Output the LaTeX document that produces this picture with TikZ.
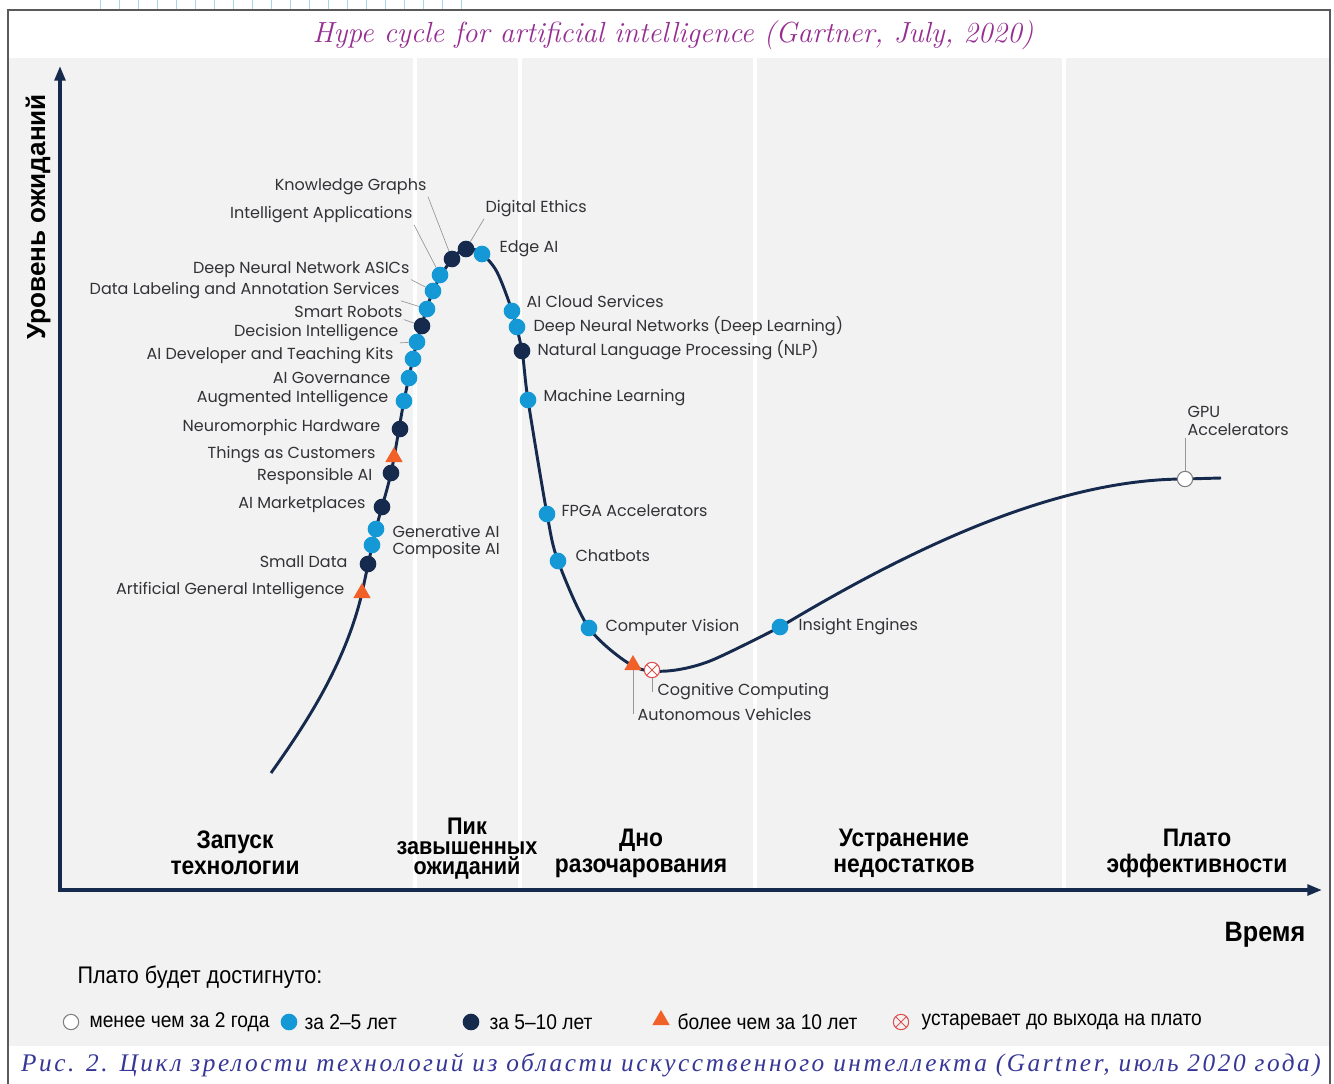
\documentclass[tikz,border=0pt]{standalone}
\usepackage{fontspec}
\usetikzlibrary{shapes.geometric,arrows.meta}
\newfontfamily\gartnerfont{Poppins}
\newfontfamily\narrowfont[FakeStretch=0.9]{Liberation Sans}
\newfontfamily\ylabfont{Liberation Sans}
\newfontfamily\capfont[LetterSpace=10]{Liberation Serif}
\definecolor{hypecyan}{RGB}{20,152,214}
\definecolor{hypenavy}{RGB}{22,42,78}
\definecolor{hypeorange}{RGB}{240,96,40}
\definecolor{hypered}{RGB}{222,80,80}
\definecolor{panelgray}{RGB}{242,242,242}
\definecolor{labelgray}{RGB}{50,50,55}
\definecolor{leadergray}{RGB}{150,150,150}
\definecolor{titlepurple}{RGB}{150,45,145}
\definecolor{capblue}{RGB}{55,55,150}
\definecolor{tickblue}{RGB}{170,215,240}
\definecolor{framegray}{RGB}{90,90,90}
\begin{document}
\begin{tikzpicture}[x=0.75pt,y=0.75pt,yscale=-1,xscale=1,
  lbl/.style={font=\gartnerfont\fontsize{12}{14}\selectfont, text=labelgray, inner sep=1pt},
  leader/.style={draw=leadergray, line width=0.5pt},
  dotA/.style={circle, fill=hypecyan, inner sep=0pt, minimum size=12.5pt},
  dotB/.style={circle, fill=hypenavy, inner sep=0pt, minimum size=12.5pt},
  dotC/.style={regular polygon, regular polygon sides=3, fill=hypeorange, inner sep=0pt, minimum size=15pt},
  dotD/.style={circle, draw=gray, fill=white, line width=0.8pt, inner sep=0pt, minimum size=11.5pt},
  dotX/.style={circle, draw=hypered, fill=white, line width=0.8pt, inner sep=0pt, minimum size=11.5pt,
    path picture={\draw[hypered, line width=0.7pt] (path picture bounding box.north west) -- (path picture bounding box.south east) (path picture bounding box.north east) -- (path picture bounding box.south west);}},
  phase/.style={font=\narrowfont\bfseries\fontsize{19}{19.5}\selectfont, align=center, text=black},
  legtext/.style={font=\narrowfont\fontsize{16}{19}\selectfont, text=black, anchor=west, inner sep=1pt},
  curve/.style={draw=hypenavy, line width=2.2pt, line join=round},
  axis/.style={draw=hypenavy, line width=2.6pt}]
\useasboundingbox (0,0) rectangle (1334,1084);

% frame, page ruler and panel
\foreach \i in {0,...,19} \draw[tickblue, line width=0.6pt] (100+19*\i,0) -- (100+19*\i,10);
\fill[panelgray] (9,58) rectangle (1329,1046);
\draw[framegray, line width=1pt] (8,1090) -- (8,10) -- (1330,10) -- (1330,1090);
\foreach \x in {415,520,755,1064} \draw[white, line width=2.6pt] (\x,58) -- (\x,888);

\node[font=\itshape\fontsize{21.8}{26}\selectfont, text=titlepurple] (title) at (673,35) {Hype cycle for artificial intelligence (Gartner, July, 2020)};

% axes
\draw[axis, -{Triangle[length=11pt,width=8pt]}] (60,892) -- (60,66);
\draw[axis, -{Triangle[length=11pt,width=8pt]}] (58,890) -- (1322,890);
\node[font=\ylabfont\bfseries\fontsize{19.6}{22}\selectfont, rotate=90] (ylab) at (38,217) {Уровень ожиданий};
\node[phase, font=\narrowfont\bfseries\fontsize{21}{24}\selectfont, anchor=east] (time) at (1310,935) {Время};

% hype curve
\draw[curve] (271,773) .. controls (305,725) and (345,665) .. (362,593)
  -- plot[smooth, tension=0.5] coordinates {(362,593) (376,529) (391,473) (404,401) (417,342) (433,291) (452,259) (467,248) (482,254) (497,272) (512,311) (522,351) (528,400) (547,514) (558,561) (589,628) (633,666) (667,671) (710,661) (780,627)}
  .. controls (900,555) and (1050,479) .. (1185,479) -- (1221,478);

% technologies
\node[dotB] (d-kg) at (452,259) {};
\node[dotA] (d-ia) at (440,275) {};
\node[dotB] (d-de) at (466,249) {};
\node[dotA] (d-edge) at (482,254) {};
\node[dotA] (d-asic) at (433,291) {};
\node[dotA] (d-dlabel) at (427,309) {};
\node[dotB] (d-robots) at (422,326) {};
\node[dotA] (d-decint) at (417,342) {};
\node[dotA] (d-devkit) at (413,359) {};
\node[dotA] (d-gov) at (409,378) {};
\node[dotA] (d-augint) at (404,401) {};
\node[dotB] (d-neuro) at (400,429) {};
\node[dotC] (d-things) at (394,457) {};
\node[dotB] (d-respai) at (391,473) {};
\node[dotB] (d-market) at (382,507) {};
\node[dotA] (d-genai) at (376,529) {};
\node[dotA] (d-compai) at (372,545) {};
\node[dotB] (d-small) at (368,564) {};
\node[dotC] (d-agi) at (362,593) {};
\node[dotA] (d-cloud) at (512,311) {};
\node[dotA] (d-dnn) at (517,327) {};
\node[dotB] (d-nlp) at (522,351) {};
\node[dotA] (d-ml) at (528,400) {};
\node[dotA] (d-fpga) at (547,514) {};
\node[dotA] (d-chat) at (558,561) {};
\node[dotA] (d-cv) at (589,628) {};
\node[dotC] (d-autov) at (633,665) {};
\node[dotX] (d-cogc) at (652,670) {};
\node[dotA] (d-insight) at (780,627) {};
\node[dotD] (d-gpu) at (1185,479) {};

\node[lbl, anchor=east] (l-kg) at (428,187) {Knowledge Graphs};
\node[lbl, anchor=east] (l-ia) at (414,215) {Intelligent Applications};
\node[lbl, anchor=east] (l-asic) at (411,270) {Deep Neural Network ASICs};
\node[lbl, anchor=east] (l-dlabel) at (401,291) {Data Labeling and Annotation Services};
\node[lbl, anchor=east] (l-robots) at (404,312) {Smart Robots};
\node[lbl, anchor=east] (l-decint) at (400,333) {Decision Intelligence};
\node[lbl, anchor=east] (l-devkit) at (395,356) {AI Developer and Teaching Kits};
\node[lbl, anchor=east] (l-gov) at (392,378) {AI Governance};
\node[lbl, anchor=east] (l-augint) at (390,399) {Augmented Intelligence};
\node[lbl, anchor=east] (l-neuro) at (382,427) {Neuromorphic Hardware};
\node[lbl, anchor=east] (l-things) at (377,455) {Things as Customers};
\node[lbl, anchor=east] (l-respai) at (374,476) {Responsible AI};
\node[lbl, anchor=east] (l-market) at (367,505) {AI Marketplaces};
\node[lbl, anchor=east] (l-small) at (349,562) {Small Data};
\node[lbl, anchor=east] (l-agi) at (346,591) {Artificial General Intelligence};
\node[lbl, anchor=west] (l-de) at (484,209) {Digital Ethics};
\node[lbl, anchor=west] (l-edge) at (498,249) {Edge AI};
\node[lbl, anchor=west] (l-cloud) at (525,301) {AI Cloud Services};
\node[lbl, anchor=west] (l-dnn) at (532,326) {Deep Neural Networks (Deep Learning)};
\node[lbl, anchor=west] (l-nlp) at (536,350) {Natural Language Processing (NLP)};
\node[lbl, anchor=west] (l-ml) at (542,398) {Machine Learning};
\node[lbl, anchor=west] (l-genai) at (391,531) {Generative AI};
\node[lbl, anchor=west] (l-compai) at (391,550) {Composite AI};
\node[lbl, anchor=west] (l-fpga) at (560,511) {FPGA Accelerators};
\node[lbl, anchor=west] (l-chat) at (574,556) {Chatbots};
\node[lbl, anchor=west] (l-cv) at (604,627) {Computer Vision};
\node[lbl, anchor=west] (l-cogc) at (656,692) {Cognitive Computing};
\node[lbl, anchor=west] (l-autov) at (636,714) {Autonomous Vehicles};
\node[lbl, anchor=west] (l-insight) at (797,627) {Insight Engines};
\node[lbl, anchor=north west, align=left, font=\gartnerfont\fontsize{12}{13.5}\selectfont] (l-gpu) at (1186,405) {GPU\\Accelerators};

% leader lines
\draw[leader] (l-kg.south east) -- (d-kg);
\draw[leader] (l-ia.south east) -- (d-ia);
\draw[leader] (l-de.south west) -- (d-de);
\draw[leader] (l-asic.south east) -- (d-asic);
\draw[leader] (l-dlabel.south east) -- (d-dlabel);
\draw[leader] (l-robots.south east) -- (d-robots);
\draw[leader] (l-decint.south east) -- (d-decint);
\draw[leader] (d-cogc.south) -- (d-cogc.south |- l-cogc.center);
\draw[leader] (d-autov.south) -- (d-autov.south |- l-autov.center);
\draw[leader] (d-gpu.north) -- (d-gpu.north |- l-gpu.south);

% phases
\node[phase] (ph-trigger) at (235,853) {Запуск\\технологии};
\node[phase, font=\narrowfont\bfseries\fontsize{18}{15}\selectfont] (ph-peak) at (467,849) {Пик\\завышенных\\ожиданий};
\node[phase] (ph-trough) at (641,853) {Дно\\разочарования};
\node[phase] (ph-slope) at (904,853) {Устранение\\недостатков};
\node[phase] (ph-plateau) at (1197,853) {Плато\\эффективности};

% legend
\node[legtext, font=\narrowfont\fontsize{18}{21}\selectfont] (legtitle) at (76,977) {Плато будет достигнуто:};
\node[dotD] (k-less2) at (71,1022) {};
\node[legtext] (t-less2) at (88,1022) {менее чем за 2 года};
\node[dotA] (k-2to5) at (289,1022) {};
\node[legtext] (t-2to5) at (303,1022) {за 2–5 лет};
\node[dotB] (k-5to10) at (471,1022) {};
\node[legtext] (t-5to10) at (488,1022) {за 5–10 лет};
\node[dotC] (k-more10) at (661,1020) {};
\node[legtext] (t-more10) at (676,1022) {более чем за 10 лет};
\node[dotX, fill=none] (k-obsolete) at (901,1022) {};
\node[legtext] (t-obsolete) at (920,1022) {устаревает до выхода на плато};

\node[font=\capfont\itshape\fontsize{19}{22}\selectfont, text=capblue] (caption) at (671,1065) {Рис. 2. Цикл зрелости технологий из области искусственного интеллекта (Gartner, июль 2020 года)};
\end{tikzpicture}
\end{document}
